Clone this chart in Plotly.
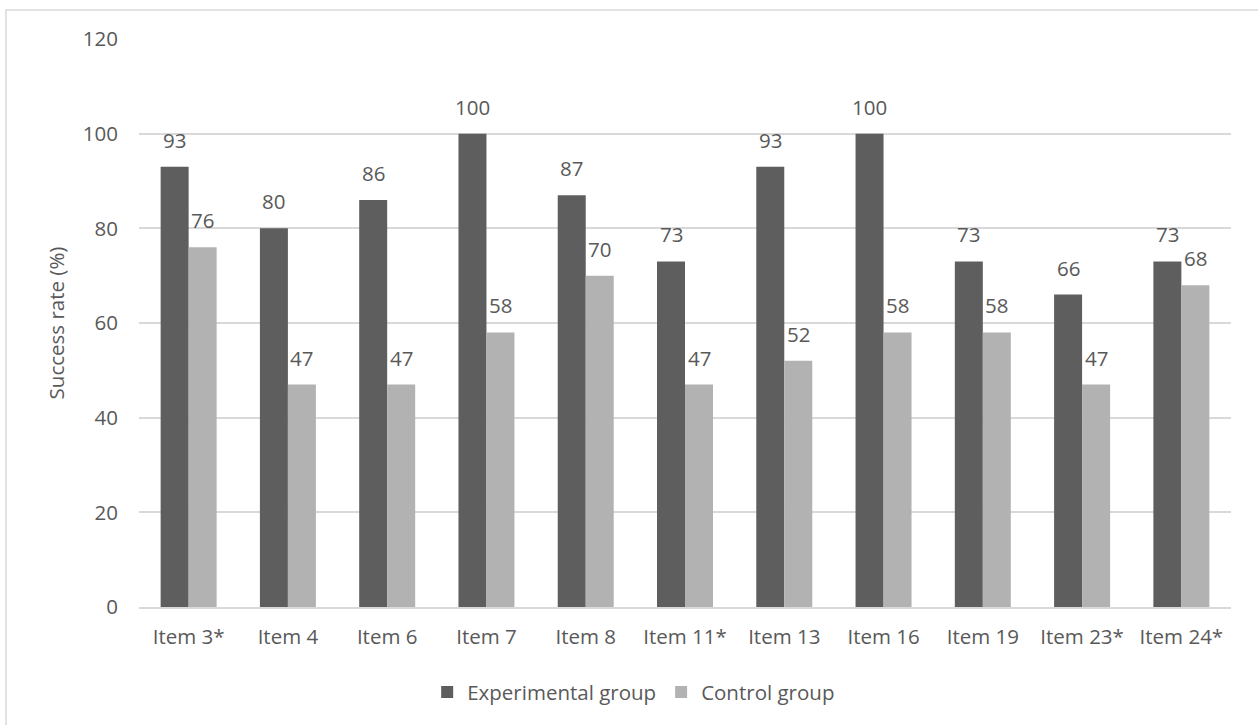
import plotly.graph_objects as go

categories = ["Item 3*", "Item 4", "Item 6", "Item 7", "Item 8", "Item 11*", "Item 13",
              "Item 16", "Item 19", "Item 23*", "Item 24*"]
experimental = [93, 80, 86, 100, 87, 73, 93, 100, 73, 66, 73]
control = [76, 47, 47, 58, 70, 47, 52, 58, 58, 47, 68]
y_ticks = [0, 20, 40, 60, 80, 100, 120]

FONT = "Open Sans"
TXT = "#595959"
FS = 20.5

fig = go.Figure()
fig.add_trace(go.Bar(x=categories, y=experimental, name="Experimental group",
                     marker=dict(color="#5e5e5e", line=dict(width=0))))
fig.add_trace(go.Bar(x=categories, y=control, name="Control group",
                     marker=dict(color="#b2b2b2", line=dict(width=0))))

annotations = []
for cat, e, c in zip(categories, experimental, control):
    for val, shift in ((e, -14), (c, 14)):
        annotations.append(dict(x=cat, y=val, xref="x", yref="y", text=str(val),
                                showarrow=False, xshift=shift, yshift=11,
                                yanchor="bottom", xanchor="center",
                                font=dict(family=FONT, size=FS, color=TXT)))

fig.update_layout(
    width=1258, height=725,
    margin=dict(l=139, r=27, t=39, b=118),
    paper_bgcolor="white", plot_bgcolor="white",
    barmode="group", bargap=0.436, bargroupgap=0,
    font=dict(family=FONT, size=FS, color=TXT),
    showlegend=True,
    legend=dict(orientation="h", x=0.453, xref="paper", xanchor="center", y=-0.15, yanchor="middle",
                font=dict(family=FONT, size=FS, color=TXT), itemwidth=30,
                traceorder="normal"),
    xaxis=dict(showgrid=False, showline=True, linecolor="#d9d9d9", linewidth=1.5,
               ticks="", tickfont=dict(size=FS, color=TXT), ticklabelstandoff=11),
    yaxis=dict(range=[0, 120], tickvals=y_ticks, showgrid=True, gridcolor="#d9d9d9",
               gridwidth=1.5, zeroline=False, showline=False, ticks="",
               tickfont=dict(size=FS, color=TXT), ticklabelstandoff=20,
               title=dict(text="Success rate (%)", font=dict(size=FS, color=TXT), standoff=12)),
    annotations=annotations,
    shapes=[dict(type="rect", xref="paper", yref="paper", x0=-0.1218, x1=1.2,
                 y0=-0.5, y1=1.051, line=dict(color="#d9d9d9", width=1.5))],
)

fig.write_html("out.html")
